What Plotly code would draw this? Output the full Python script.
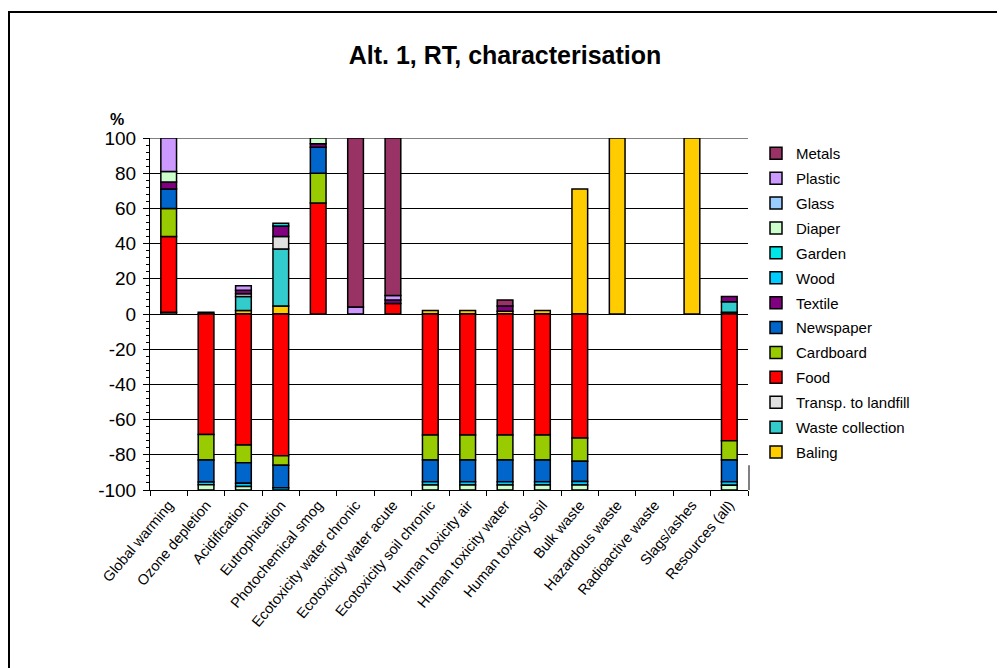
import plotly.graph_objects as go

categories = ["Global warming", "Ozone depletion", "Acidification", "Eutrophication",
              "Photochemical smog", "Ecotoxicity water chronic", "Ecotoxicity water acute",
              "Ecotoxicity soil chronic", "Human toxicity air", "Human toxicity water",
              "Human toxicity soil", "Bulk waste", "Hazardous waste", "Radioactive waste",
              "Slags/ashes", "Resources (all)"]

baling = [0, 0, 2, 4.5, 0, 0, 0, 2, 2, 1.5, 2, 71, 100, 0, 100, 1]
waste_collection = [0, 0, 8, 32.5, 0, 0, 0, 0, 0, 0, 0, 0, 0, 0, 0, 6]
transp_landfill = [1, 1, 1.5, 7, 0, 0, 0, 0, 0, 0, 0, 0, 0, 0, 0, 0]
food = [43, -68.5, -74.5, -80.5, 63, 0, 6, -68.8, -68.8, -68.8, -68.8, -70.5, 0, 0, 0, -72]
cardboard = [16, -14.5, -10, -5.5, 17, 0, 0, -14.2, -14.2, -14.2, -14.2, -13.2, 0, 0, 0, -11]
newspaper = [11, -12.5, -11.7, -12.7, 14.7, 0, 0, -12.3, -12.3, -12.3, -12.3, -11.5, 0, 0, 0, -12.3]
textile = [4, 0, 2, 6, 2, 0, 2, 0, 0, 3, 0, 0, 0, 0, 0, 3]
wood = [0, -1.5, -1.8, -1.3, 0, 0, 0, -1.9, -1.9, -1.9, -1.9, -2, 0, 0, 0, -2]
garden = [0, 0, 0, 1.5, 0, 0, 0, 0, 0, 0, 0, 0, 0, 0, 0, 0]
diaper = [6, -3, -2, 0, 3.3, 0, 0, -2.8, -2.8, -2.8, -2.8, -2.8, 0, 0, 0, -2.7]
glass = [0] * 16
plastic = [19, 0, 2.5, 0, 0, 4, 2.5, 0, 0, 0, 0, 0, 0, 0, 0, 0]
metals = [0, 0, 0, 0, 0, 96, 89.5, 0, 0, 3.5, 0, 0, 0, 0, 0, 0]

ytick_values = [-100, -80, -60, -40, -20, 0, 20, 40, 60, 80, 100]
ytick_labels = ["-100", "-80", "-60", "-40", "-20", "0", "20", "40", "60", "80", "100"]

series = [
    ("Baling", baling, "#FFCC00"),
    ("Waste collection", waste_collection, "#33CCCC"),
    ("Transp. to landfill", transp_landfill, "#E0E0E0"),
    ("Food", food, "#FF0000"),
    ("Cardboard", cardboard, "#99CC00"),
    ("Newspaper", newspaper, "#0066CC"),
    ("Textile", textile, "#800080"),
    ("Wood", wood, "#00CCFF"),
    ("Garden", garden, "#00E5E5"),
    ("Diaper", diaper, "#CCFFCC"),
    ("Glass", glass, "#99CCFF"),
    ("Plastic", plastic, "#CC99FF"),
    ("Metals", metals, "#993366"),
]

FONT = "Arial, Liberation Sans, sans-serif"

fig = go.Figure()
for i, (name, vals, color) in enumerate(series):
    fig.add_trace(go.Bar(
        x=categories,
        y=[v if v != 0 else None for v in vals],
        name=name,
        legendgroup=name,
        legendrank=1000 - i,
        width=0.42,
        marker=dict(color=color, line=dict(color="black", width=1.5)),
    ))

# page body has an 8px margin; screen coords -> figure coords
OFF = 8
W, H = 997, 660
L, R, T, B = 142, 257, 130, 178
pw, ph = W - L - R, H - T - B


def px_x(screen):
    return (screen - OFF - L) / pw


def px_y(screen):
    return (H - B - (screen - OFF)) / ph


fig.update_layout(
    width=W, height=H,
    barmode="relative",
    plot_bgcolor="white", paper_bgcolor="white",
    margin=dict(l=L, r=R, t=T, b=B, autoexpand=False),
    font=dict(family=FONT, color="black"),
    title=dict(text="<b>Alt. 1, RT, characterisation</b>", x=(505 - OFF) / W, xref="container",
               y=1 - (55 - OFF) / H, yref="container", xanchor="center", yanchor="middle",
               font=dict(size=25, family=FONT, color="black")),
    showlegend=True,
    legend=dict(x=px_x(756), y=px_y(137), xanchor="left", yanchor="top",
                traceorder="grouped", tracegroupgap=2.4, maxheight=600,
                font=dict(size=15, family=FONT, color="black"),
                bgcolor="rgba(0,0,0,0)"),
    xaxis=dict(showgrid=False, showline=True, linecolor="black", linewidth=1,
               ticks="outside", tickson="boundaries", ticklen=5, tickcolor="black",
               tickangle=-50, tickfont=dict(size=14.5, family=FONT, color="black"),
               zeroline=False),
    yaxis=dict(range=[-100, 100], tickmode="array", tickvals=ytick_values, ticktext=ytick_labels,
               showgrid=True, gridcolor="black",
               gridwidth=1, zeroline=False, showline=True, linecolor="black", linewidth=1,
               ticks="outside", ticklen=6, tickcolor="black", ticklabelstandoff=3,
               tickfont=dict(size=19, family=FONT, color="black"),
               minor=dict(dtick=4, tick0=0, ticks="outside", ticklen=3, tickcolor="black",
                          showgrid=False)),
    annotations=[dict(text="<b>%</b>", x=px_x(117), y=px_y(119), xref="paper", yref="paper",
                      xanchor="center", yanchor="middle",
                      showarrow=False, font=dict(size=16, family=FONT, color="black"))],
    shapes=[
        dict(type="line", xref="paper", yref="y", x0=0, x1=1, y0=100, y1=100,
             line=dict(color="#808080", width=2), layer="between"),
        dict(type="line", xref="paper", yref="y", x0=px_x(749), x1=px_x(749), y0=-100, y1=-86,
             line=dict(color="#808080", width=2), layer="above"),
        dict(type="line", xref="paper", yref="paper", x0=px_x(9), x1=px_x(9),
             y0=px_y(12), y1=px_y(700), line=dict(color="black", width=2)),
        dict(type="line", xref="paper", yref="paper", x0=px_x(8), x1=px_x(1020),
             y0=px_y(12), y1=px_y(12), line=dict(color="black", width=2)),
    ],
)

fig.write_html("out.html")
